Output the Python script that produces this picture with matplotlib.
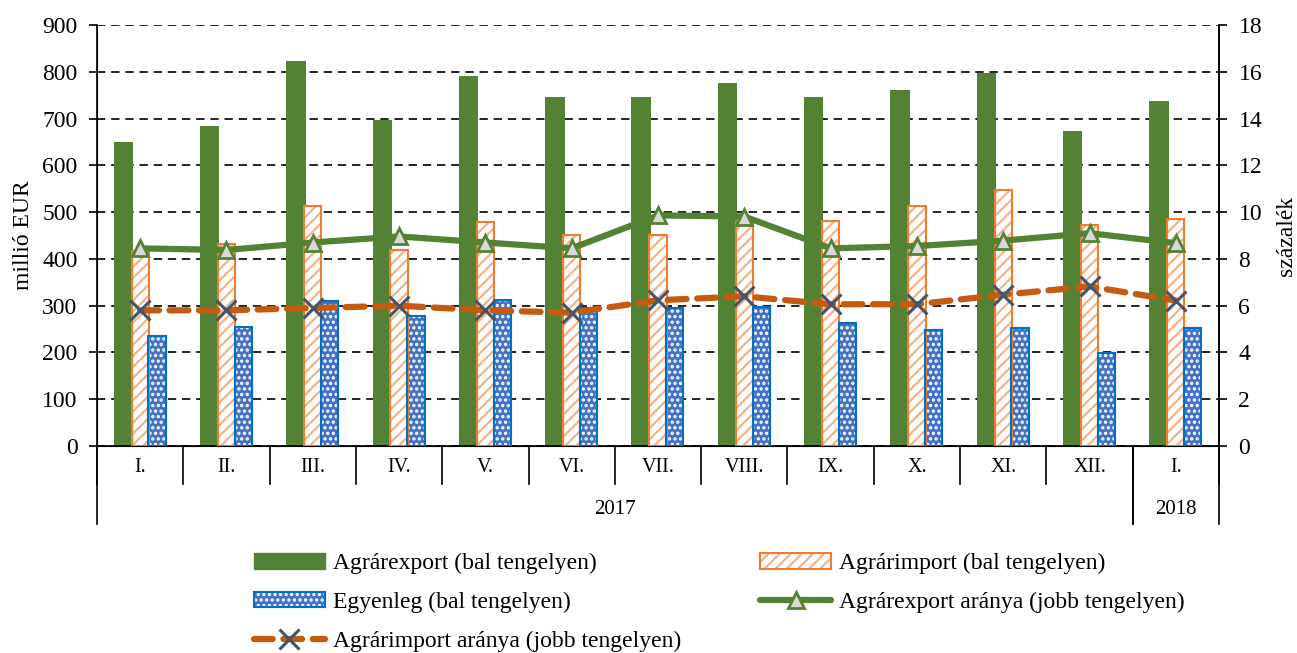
import matplotlib.pyplot as plt
import matplotlib.transforms as mtransforms
import numpy as np
from matplotlib.patches import Patch
from matplotlib.lines import Line2D
from matplotlib.legend_handler import HandlerTuple

plt.rcParams['font.family'] = ['Liberation Serif', 'DejaVu Serif']
plt.rcParams['hatch.linewidth'] = 1.6

# data
months = ['I.', 'II.', 'III.', 'IV.', 'V.', 'VI.', 'VII.', 'VIII.', 'IX.', 'X.', 'XI.', 'XII.', 'I.']
years = ['2017', '2018']
year_first = [0, 12]
year_last = [11, 12]
agr_export = [650, 685, 823, 697, 791, 746, 746, 776, 746, 760, 798, 674, 738]
agr_import = [416, 431, 512, 420, 478, 452, 452, 478, 482, 512, 548, 473, 486]
balance = [236, 254, 311, 278, 313, 296, 296, 298, 264, 248, 252, 199, 253]
export_share = [8.45, 8.38, 8.7, 8.96, 8.7, 8.45, 9.86, 9.81, 8.45, 8.55, 8.78, 9.1, 8.67]
import_share = [5.8, 5.8, 5.9, 6.0, 5.8, 5.7, 6.23, 6.4, 6.06, 6.06, 6.47, 6.82, 6.22]

GREEN = '#548235'
ORANGE = '#ED7D31'
ORANGE_L = '#F6B285'
BLUE = '#4472C4'
BLUE_E = '#0070C0'
RUST = '#C55A11'
XGRAY = '#44546A'
IMP_HATCH = '///'
BAL_HATCH = '...'

W, H = 1297, 653
fig = plt.figure(figsize=(W / 100, H / 100), dpi=100)
ax = fig.add_axes([97 / W, 1 - 446 / H, (1219 - 97) / W, (446 - 25) / H])

x = np.arange(len(months))
bw = 0.2

ax.bar(x - 0.195, agr_export, 0.225, color=GREEN, zorder=2)
# import: white with light orange hatch, orange outline
ax.bar(x, agr_import, bw, facecolor='white', edgecolor=ORANGE_L, hatch=IMP_HATCH, lw=0, zorder=2)
ax.bar(x, agr_import, bw, facecolor='none', edgecolor=ORANGE, lw=1.5, zorder=3)
# balance: blue with white dots, blue outline
ax.bar(x + bw - 0.005, balance, bw, facecolor=BLUE, edgecolor='white', hatch=BAL_HATCH, lw=0, zorder=2)
ax.bar(x + bw - 0.005, balance, bw, facecolor='none', edgecolor=BLUE_E, lw=1.5, zorder=3)

ax.set_xlim(-0.5, len(months) - 0.5)
ax.set_ylim(0, 900)
ax.set_yticks(np.arange(0, 901, 100))
ax.yaxis.grid(True, color='black', linestyle=(0, (5, 3.5)), lw=1.2, zorder=0)
ax.set_axisbelow(True)
ax.set_xticks([])
ax.tick_params(axis='y', direction='out', length=6, width=1.2, labelsize=17, pad=8)
ax.spines['top'].set_visible(False)
for s in ['left', 'right', 'bottom']:
    ax.spines[s].set_linewidth(1.2)
ax.set_ylabel('millió EUR', fontsize=17, labelpad=6)

ax2 = ax.twinx()
ax2.set_ylim(0, 18)
ax2.set_yticks(np.arange(0, 19, 2))
ax2.tick_params(axis='y', direction='out', length=6, width=1.2, labelsize=17, pad=8)
ax2.spines['top'].set_visible(False)
ax2.spines['right'].set_linewidth(1.2)
ax2.set_ylabel('százalék', fontsize=17, labelpad=10)

ax2.plot(x, export_share, color=GREEN, lw=4.5, marker='^', ms=12,
         mfc='#D9D9D9', mec=GREEN, mew=2, solid_capstyle='round', zorder=4)
ax2.plot(x, import_share, color=RUST, lw=4.5, dashes=(3, 1.7), dash_capstyle='round',
         marker='x', ms=14, mec=XGRAY, mew=2.2, zorder=4)

# multi-level category axis
tr = mtransforms.blended_transform_factory(ax.transData, ax.transAxes)
for i, m in enumerate(months):
    ax.text(i, -0.05, m, transform=tr, ha='center', va='center', fontsize=14.5)
for b in np.arange(len(months) + 1) - 0.5:
    ax.plot([b, b], [0, -0.09], transform=tr, color='black', lw=1.2, clip_on=False)
for y, a, b in zip(years, year_first, year_last):
    ax.text((a + b) / 2, -0.152, y, transform=tr, ha='center', va='center', fontsize=15)
    for e in (a - 0.5, b + 0.5):
        ax.plot([e, e], [0, -0.185], transform=tr, color='black', lw=1.2, clip_on=False)

# legend
h_exp = Patch(facecolor=GREEN, edgecolor=GREEN)
h_imp = (Patch(facecolor='white', edgecolor=ORANGE_L, hatch=IMP_HATCH, lw=0),
         Patch(facecolor='none', edgecolor=ORANGE, lw=1.5))
h_bal = (Patch(facecolor=BLUE, edgecolor='white', hatch=BAL_HATCH, lw=0),
         Patch(facecolor='none', edgecolor=BLUE_E, lw=1.5))
h_exs = Line2D([], [], color=GREEN, lw=4.5, marker='^', ms=12, mfc='#D9D9D9', mec=GREEN, mew=2,
               solid_capstyle='round')
h_ims = Line2D([], [], color=RUST, lw=4.5, dashes=(3, 1.7), dash_capstyle='round',
               marker='x', ms=14, mec=XGRAY, mew=2.2)
handles = [h_exp, h_bal, h_ims, h_imp, h_exs]
labels = ['Agrárexport (bal tengelyen)', 'Egyenleg (bal tengelyen)',
          'Agrárimport aránya (jobb tengelyen)', 'Agrárimport (bal tengelyen)',
          'Agrárexport aránya (jobb tengelyen)']
fig.legend(handles, labels, loc='upper left', bbox_to_anchor=(242 / W, 1 - 541 / H),
           ncol=2, frameon=False, fontsize=17, handlelength=3.0, handleheight=0.65,
           handletextpad=0.35, columnspacing=3.35, labelspacing=0.75, borderpad=0,
           handler_map={tuple: HandlerTuple(ndivide=1)})

fig.savefig('out.png', dpi=100)
